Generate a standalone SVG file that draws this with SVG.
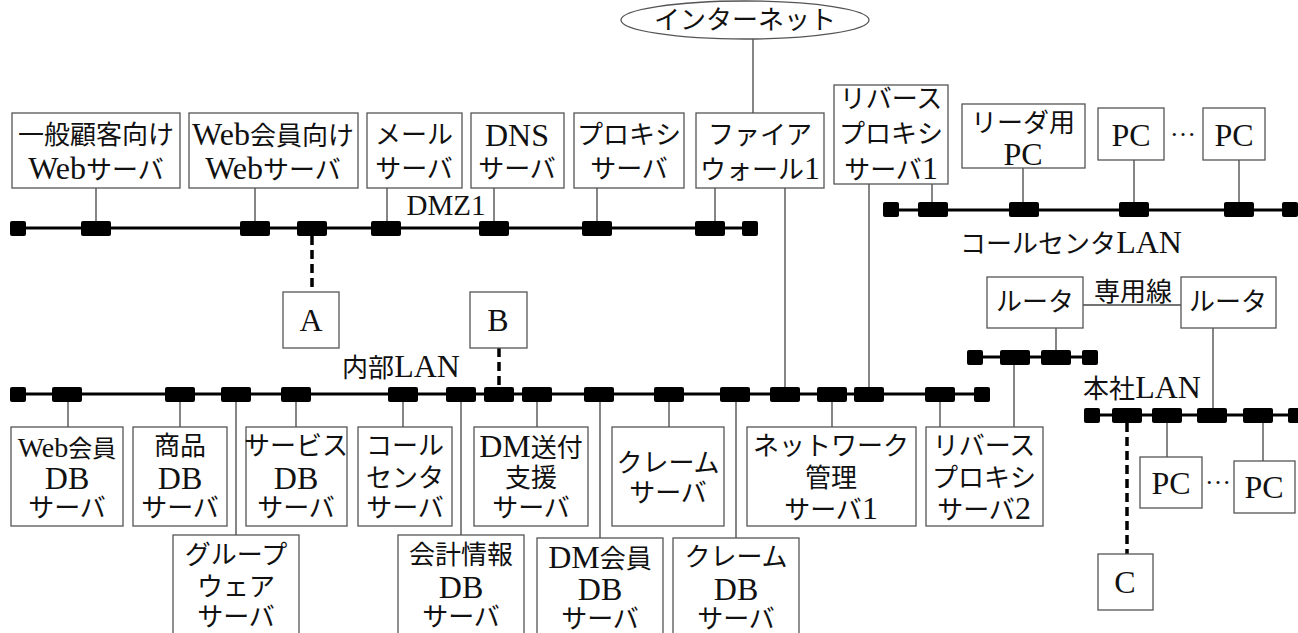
<svg xmlns="http://www.w3.org/2000/svg" width="1298" height="633" viewBox="0 0 1298 633">
<style>
.bx{fill:#fff;stroke:#555;stroke-width:1.3}
.t{font-family:"Liberation Serif","Noto Sans CJK JP",serif;font-size:26px;fill:#111;text-anchor:middle}
.L{font-family:"Liberation Serif",serif;font-size:32px}
.c{stroke:#444;stroke-width:1.3;fill:none}
.d{stroke:#000;stroke-width:3.5;stroke-dasharray:9 5;fill:none}
.bus{stroke:#000;stroke-width:3;fill:none}
.sq{fill:#000}
</style>
<defs>
<rect id="e" width="16" height="15" rx="2"/>
<rect id="n" width="30" height="15" rx="2"/>
</defs>

<g id="connectors">
<line class="c" x1="753" y1="39" x2="753" y2="113"/>
<line class="c" x1="96" y1="188" x2="96" y2="221"/>
<line class="c" x1="255" y1="188" x2="255" y2="221"/>
<line class="c" x1="387" y1="188" x2="387" y2="221"/>
<line class="c" x1="494" y1="188" x2="494" y2="221"/>
<line class="c" x1="597" y1="188" x2="597" y2="221"/>
<line class="c" x1="715" y1="188" x2="715" y2="221"/>
<line class="c" x1="785" y1="188" x2="785" y2="387"/>
<line class="c" x1="869" y1="184" x2="869" y2="387"/>
<line class="c" x1="932" y1="184" x2="932" y2="203"/>
<line class="c" x1="1023" y1="168" x2="1023" y2="203"/>
<line class="c" x1="1134" y1="160" x2="1134" y2="203"/>
<line class="c" x1="1239" y1="160" x2="1239" y2="203"/>
<line class="d" x1="312" y1="236" x2="312" y2="292"/>
<line class="d" x1="499" y1="348" x2="499" y2="387"/>
<line class="d" x1="1127" y1="423" x2="1127" y2="554"/>
<line class="c" x1="68" y1="401" x2="68" y2="427"/>
<line class="c" x1="180" y1="401" x2="180" y2="427"/>
<line class="c" x1="236" y1="401" x2="236" y2="535"/>
<line class="c" x1="296" y1="401" x2="296" y2="427"/>
<line class="c" x1="403" y1="401" x2="403" y2="427"/>
<line class="c" x1="461" y1="401" x2="461" y2="535"/>
<line class="c" x1="537" y1="401" x2="537" y2="427"/>
<line class="c" x1="600" y1="401" x2="600" y2="538"/>
<line class="c" x1="669" y1="401" x2="669" y2="427"/>
<line class="c" x1="736" y1="401" x2="736" y2="538"/>
<line class="c" x1="832" y1="401" x2="832" y2="427"/>
<line class="c" x1="940" y1="401" x2="940" y2="427"/>
<line class="c" x1="1056" y1="328" x2="1056" y2="350"/>
<line class="c" x1="1014" y1="364" x2="1014" y2="428"/>
<line class="c" x1="1083" y1="305" x2="1181" y2="305"/>
<line class="c" x1="1213" y1="328" x2="1213" y2="408"/>
<line class="c" x1="1167" y1="422" x2="1167" y2="457"/>
<line class="c" x1="1263" y1="422" x2="1263" y2="461"/>
</g>

<g id="dmz1-lan">
<line class="bus" x1="18" y1="228" x2="750" y2="228"/>
<use href="#e" class="sq" x="10" y="221"/>
<use href="#n" class="sq" x="81" y="221"/>
<use href="#n" class="sq" x="240" y="221"/>
<use href="#n" class="sq" x="297" y="221"/>
<use href="#n" class="sq" x="371" y="221"/>
<use href="#n" class="sq" x="479" y="221"/>
<use href="#n" class="sq" x="582" y="221"/>
<use href="#n" class="sq" x="695" y="221"/>
<use href="#e" class="sq" x="742" y="221"/>
<text class="t" x="446" y="215"><tspan class="L" style="font-size:29px">DMZ1</tspan></text>
</g>

<g id="callcenter-lan">
<line class="bus" x1="891" y1="210" x2="1298" y2="210"/>
<use href="#e" class="sq" x="883" y="202"/>
<use href="#n" class="sq" x="918" y="202"/>
<use href="#n" class="sq" x="1009" y="202"/>
<use href="#n" class="sq" x="1119" y="202"/>
<use href="#n" class="sq" x="1224" y="202"/>
<use href="#e" class="sq" x="1282" y="202"/>
<text class="t" x="1071" y="253">コールセンタ<tspan class="L">LAN</tspan></text>
</g>

<g id="internal-lan">
<line class="bus" x1="18" y1="394" x2="982" y2="394"/>
<use href="#e" class="sq" x="10" y="387"/>
<use href="#n" class="sq" x="52" y="387"/>
<use href="#n" class="sq" x="165" y="387"/>
<use href="#n" class="sq" x="221" y="387"/>
<use href="#n" class="sq" x="281" y="387"/>
<use href="#n" class="sq" x="388" y="387"/>
<use href="#n" class="sq" x="446" y="387"/>
<use href="#n" class="sq" x="484" y="387"/>
<use href="#n" class="sq" x="522" y="387"/>
<use href="#n" class="sq" x="584" y="387"/>
<use href="#n" class="sq" x="654" y="387"/>
<use href="#n" class="sq" x="720" y="387"/>
<use href="#n" class="sq" x="770" y="387"/>
<use href="#n" class="sq" x="817" y="387"/>
<use href="#n" class="sq" x="854" y="387"/>
<use href="#n" class="sq" x="925" y="387"/>
<use href="#e" class="sq" x="974" y="387"/>
<text class="t" x="401" y="377">内部<tspan class="L">LAN</tspan></text>
</g>

<g id="router-lan">
<line class="bus" x1="975" y1="357" x2="1090" y2="357"/>
<use href="#e" class="sq" x="967" y="350"/>
<use href="#n" class="sq" x="1000" y="350"/>
<use href="#n" class="sq" x="1041" y="350"/>
<use href="#e" class="sq" x="1082" y="350"/>
</g>

<g id="honsha-lan">
<line class="bus" x1="1092" y1="415" x2="1298" y2="415"/>
<use href="#e" class="sq" x="1084" y="408"/>
<use href="#n" class="sq" x="1112" y="408"/>
<use href="#n" class="sq" x="1152" y="408"/>
<use href="#n" class="sq" x="1197" y="408"/>
<use href="#n" class="sq" x="1243" y="408"/>
<use href="#e" class="sq" x="1288" y="408"/>
<text class="t" x="1142" y="398">本社<tspan class="L">LAN</tspan></text>
</g>

<g id="internet"><ellipse class="bx" cx="745" cy="20" rx="124" ry="19"/><text class="t" x="745" y="29">インターネット</text></g>

<g id="web-general"><rect class="bx" x="12" y="113" width="168" height="75"/><text class="t" x="96" y="144">一般顧客向け</text><text class="t" x="96" y="179"><tspan class="L">Web</tspan>サーバ</text></g>
<g id="web-member"><rect class="bx" x="189" y="113" width="169" height="75"/><text class="t" x="273" y="145"><tspan class="L">Web</tspan>会員向け</text><text class="t" x="273" y="179"><tspan class="L">Web</tspan>サーバ</text></g>
<g id="mail"><rect class="bx" x="367" y="113" width="95" height="75"/><text class="t" x="414" y="144">メール</text><text class="t" x="414" y="178">サーバ</text></g>
<g id="dns"><rect class="bx" x="471" y="113" width="93" height="75"/><text class="t" x="517" y="146"><tspan class="L">DNS</tspan></text><text class="t" x="517" y="178">サーバ</text></g>
<g id="proxy"><rect class="bx" x="574" y="113" width="110" height="75"/><text class="t" x="629" y="144">プロキシ</text><text class="t" x="629" y="178">サーバ</text></g>
<g id="firewall1"><rect class="bx" x="696" y="113" width="128" height="75"/><text class="t" x="760" y="144">ファイア</text><text class="t" x="760" y="179">ウォール<tspan class="L">1</tspan></text></g>
<g id="rproxy1"><rect class="bx" x="834" y="85" width="114" height="99"/><text class="t" x="891" y="108">リバース</text><text class="t" x="891" y="143">プロキシ</text><text class="t" x="891" y="179">サーバ<tspan class="L">1</tspan></text></g>
<g id="leader-pc"><rect class="bx" x="962" y="104" width="123" height="64"/><text class="t" x="1023" y="132">リーダ用</text><text class="t" x="1023" y="165"><tspan class="L">PC</tspan></text></g>
<g id="cc-pc1"><rect class="bx" x="1098" y="108" width="66" height="52"/><text class="t" x="1131" y="146"><tspan class="L">PC</tspan></text></g>
<text class="t" x="1183" y="136" font-size="22">…</text>
<g id="cc-pc2"><rect class="bx" x="1203" y="108" width="62" height="52"/><text class="t" x="1234" y="146"><tspan class="L">PC</tspan></text></g>

<g id="A"><rect class="bx" x="283" y="292" width="56" height="56"/><text class="t" x="311" y="331"><tspan class="L">A</tspan></text></g>
<g id="B"><rect class="bx" x="470" y="292" width="57" height="56"/><text class="t" x="498" y="331"><tspan class="L">B</tspan></text></g>
<g id="router1"><rect class="bx" x="987" y="277" width="96" height="51"/><text class="t" x="1035" y="311">ルータ</text></g>
<g id="router2"><rect class="bx" x="1181" y="277" width="95" height="51"/><text class="t" x="1228" y="311">ルータ</text></g>
<text class="t" x="1133" y="301">専用線</text>

<g id="webmember-db"><rect class="bx" x="11" y="427" width="112" height="99"/><text class="t" x="67" y="457" style="font-size:24px"><tspan class="L" style="font-size:28px">Web</tspan>会員</text><text class="t" x="67" y="489"><tspan class="L">DB</tspan></text><text class="t" x="67" y="517">サーバ</text></g>
<g id="product-db"><rect class="bx" x="133" y="427" width="94" height="99"/><text class="t" x="180" y="455">商品</text><text class="t" x="180" y="489"><tspan class="L">DB</tspan></text><text class="t" x="180" y="517">サーバ</text></g>
<g id="service-db"><rect class="bx" x="246" y="427" width="101" height="99"/><text class="t" x="296" y="455">サービス</text><text class="t" x="296" y="489"><tspan class="L">DB</tspan></text><text class="t" x="296" y="517">サーバ</text></g>
<g id="callcenter-server"><rect class="bx" x="358" y="427" width="94" height="99"/><text class="t" x="405" y="455">コール</text><text class="t" x="405" y="487">センタ</text><text class="t" x="405" y="517">サーバ</text></g>
<g id="dm-support"><rect class="bx" x="474" y="427" width="114" height="99"/><text class="t" x="531" y="457"><tspan class="L">DM</tspan>送付</text><text class="t" x="531" y="487">支援</text><text class="t" x="531" y="517">サーバ</text></g>
<g id="claim-server"><rect class="bx" x="612" y="427" width="112" height="99"/><text class="t" x="668" y="472">クレーム</text><text class="t" x="668" y="502">サーバ</text></g>
<g id="nms1"><rect class="bx" x="747" y="427" width="169" height="99"/><text class="t" x="831" y="455">ネットワーク</text><text class="t" x="831" y="487">管理</text><text class="t" x="831" y="519">サーバ<tspan class="L">1</tspan></text></g>
<g id="rproxy2"><rect class="bx" x="926" y="427" width="117" height="99"/><text class="t" x="984" y="455">リバース</text><text class="t" x="984" y="487">プロキシ</text><text class="t" x="984" y="519">サーバ<tspan class="L">2</tspan></text></g>

<g id="groupware"><rect class="bx" x="173" y="535" width="126" height="110"/><text class="t" x="236" y="564">グループ</text><text class="t" x="236" y="596">ウェア</text><text class="t" x="236" y="626">サーバ</text></g>
<g id="accounting-db"><rect class="bx" x="398" y="535" width="126" height="110"/><text class="t" x="461" y="564">会計情報</text><text class="t" x="461" y="598"><tspan class="L">DB</tspan></text><text class="t" x="461" y="626">サーバ</text></g>
<g id="dm-member-db"><rect class="bx" x="537" y="538" width="126" height="110"/><text class="t" x="600" y="568"><tspan class="L">DM</tspan>会員</text><text class="t" x="600" y="600"><tspan class="L">DB</tspan></text><text class="t" x="600" y="628">サーバ</text></g>
<g id="claim-db"><rect class="bx" x="673" y="538" width="126" height="110"/><text class="t" x="736" y="566">クレーム</text><text class="t" x="736" y="600"><tspan class="L">DB</tspan></text><text class="t" x="736" y="628">サーバ</text></g>

<g id="hq-pc1"><rect class="bx" x="1140" y="457" width="62" height="51"/><text class="t" x="1171" y="494"><tspan class="L">PC</tspan></text></g>
<text class="t" x="1218" y="484" font-size="22">…</text>
<g id="hq-pc2"><rect class="bx" x="1234" y="461" width="61" height="52"/><text class="t" x="1264" y="498"><tspan class="L">PC</tspan></text></g>
<g id="C"><rect class="bx" x="1098" y="554" width="55" height="56"/><text class="t" x="1125" y="593"><tspan class="L">C</tspan></text></g>
</svg>
